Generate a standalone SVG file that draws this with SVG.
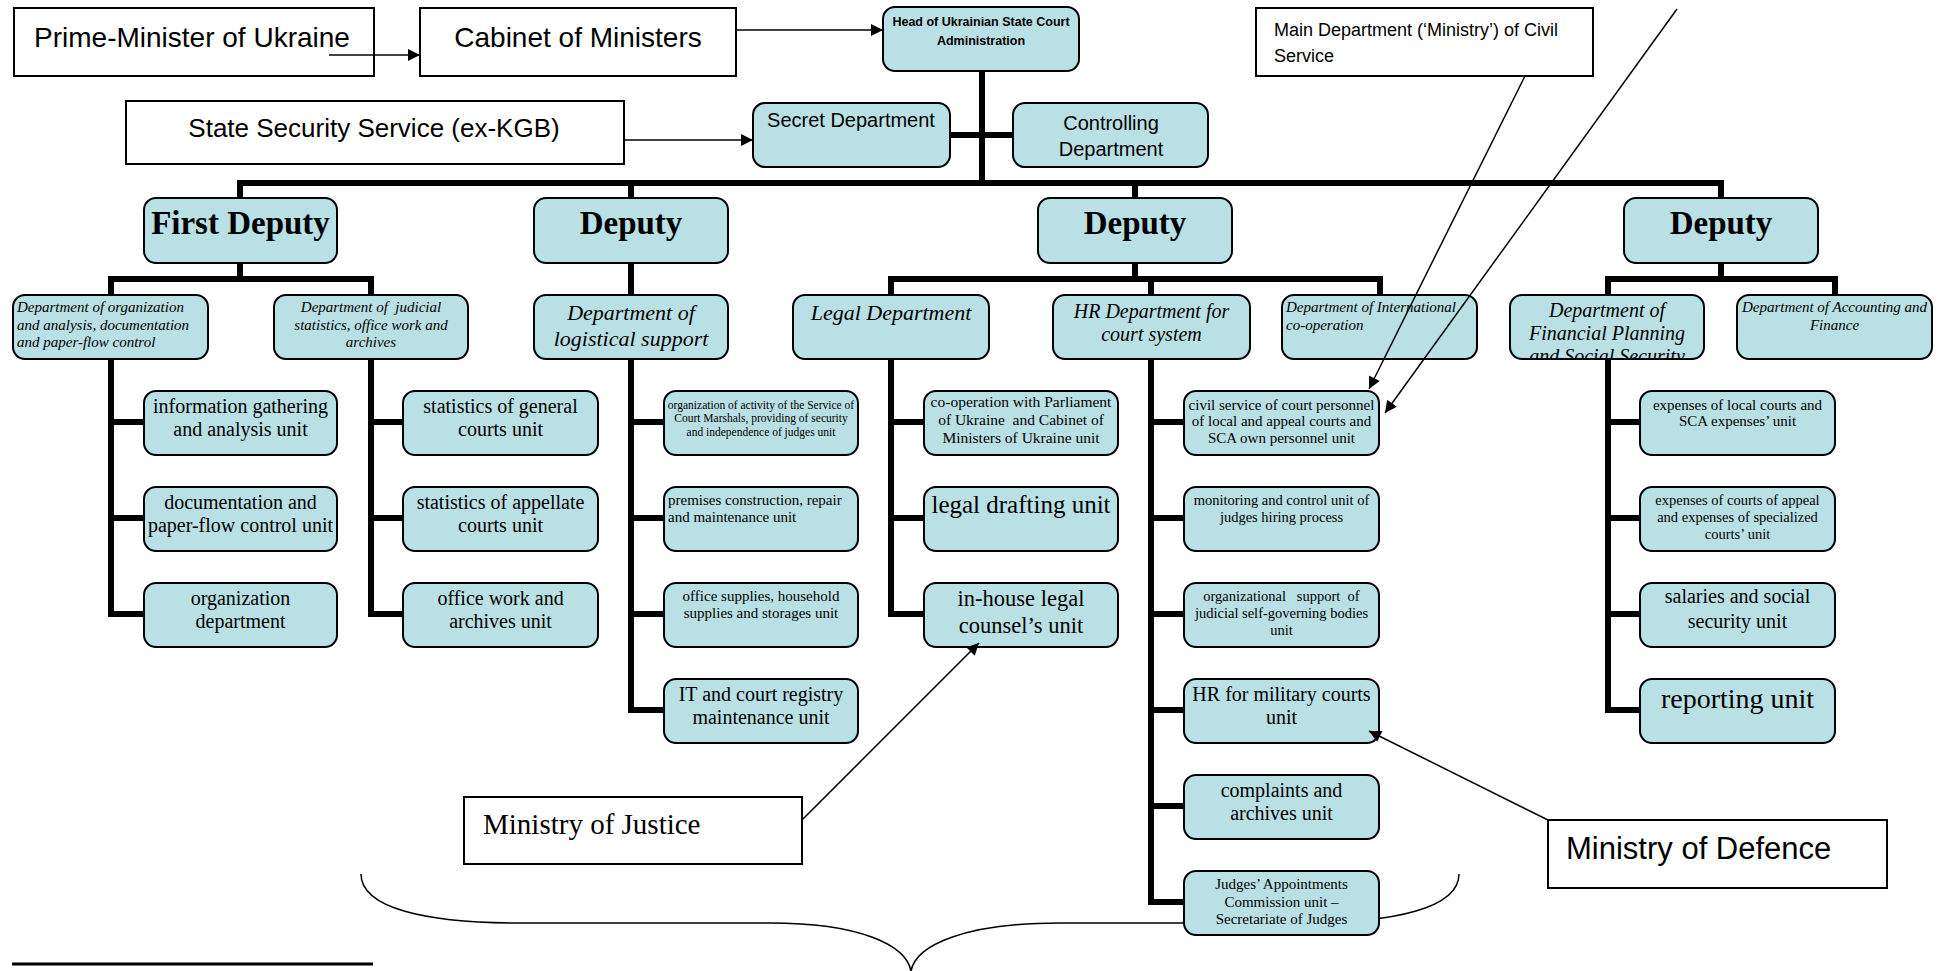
<svg xmlns="http://www.w3.org/2000/svg" width="1944" height="971" viewBox="0 0 1944 971">
<style>
.box{fill:#b9e0e4;stroke:#000;stroke-width:2}
.ext{fill:#fff;stroke:#000;stroke-width:2}
.bar{fill:none;stroke:#000;stroke-width:6;stroke-linejoin:miter;stroke-linecap:butt}
.thin{fill:none;stroke:#000;stroke-width:1.5}
.sans{font-family:"Liberation Sans",Arial,sans-serif;fill:#000}
.serif{font-family:"Liberation Serif","Times New Roman",serif;fill:#000}
.c{text-anchor:middle}
.it{font-style:italic}
.b{font-weight:bold}
.dep{font-size:33px;font-weight:bold}
.u20{font-size:20px}
</style>
<defs>
<marker id="ah" viewBox="0 0 10 10" refX="10" refY="5" markerWidth="14" markerHeight="12" markerUnits="userSpaceOnUse" orient="auto"><path d="M0,0L10,5L0,10z" fill="#000"/></marker>
<clipPath id="clipFin"><rect x="1511" y="296" width="192" height="62"/></clipPath>
<clipPath id="clipJud"><rect x="1185" y="872" width="193" height="62"/></clipPath>
</defs>
<rect width="1944" height="971" fill="#fff"/>

<g id="connectors-tree">
<path class="thin" d="M361,874 C361,908 425,923 520,923 L770,923 C860,923 906,945 911,971 M1459,874 C1459,908 1395,923 1300,923 L1060,923 C965,923 916,945 911,971"/>
<path class="bar" d="M982,71V183"/>
<path class="bar" d="M950,135H1013"/>
<path class="bar" d="M240,198V183H1721V198M631,183V198M1135,183V198"/>
<path class="bar" d="M240,263V279M111,295V279H371V295"/>
<path class="bar" d="M631,263V295"/>
<path class="bar" d="M1135,263V279M891,295V279H1380V295M1151,279V295"/>
<path class="bar" d="M1721,263V279M1608,295V279H1835V295"/>
<path class="bar" d="M111,359V614H144M111,422H144M111,518H144"/>
<path class="bar" d="M371,359V614H403M371,422H403M371,518H403"/>
<path class="bar" d="M631,359V710H664M631,422H664M631,518H664M631,614H664"/>
<path class="bar" d="M891,359V614H924M891,422H924M891,518H924"/>
<path class="bar" d="M1151,359V902H1184M1151,422H1184M1151,518H1184M1151,614H1184M1151,710H1184M1151,806H1184"/>
<path class="bar" d="M1608,359V710H1640M1608,422H1640M1608,518H1640M1608,614H1640"/>
<path d="M12,964H373" stroke="#000" stroke-width="3"/>
</g>

<g id="pm"><rect class="ext" x="14" y="8" width="360" height="68"/><text class="sans c" x="192" y="47" font-size="28">Prime-Minister of Ukraine</text></g>
<g id="cabinet"><rect class="ext" x="420" y="8" width="316" height="68"/><text class="sans c" x="578" y="47" font-size="28">Cabinet of Ministers</text></g>
<g id="sss"><rect class="ext" x="126" y="101" width="498" height="63"/><text class="sans c" x="374" y="137" font-size="26">State Security Service (ex-KGB)</text></g>
<g id="maindept"><rect class="ext" x="1256" y="8" width="337" height="68"/><text class="sans" x="1274" font-size="18"><tspan x="1274" y="36">Main Department (‘Ministry’) of Civil</tspan><tspan x="1274" y="62">Service</tspan></text></g>
<g id="moj"><rect class="ext" x="464" y="797" width="338" height="67"/><text class="serif" x="483" y="834" font-size="29">Ministry of Justice</text></g>
<g id="mod"><rect class="ext" x="1548" y="820" width="339" height="68"/><text class="sans" x="1566" y="859" font-size="31">Ministry of Defence</text></g>

<g id="head"><rect class="box" x="883" y="7" width="196" height="64" rx="12"/><text class="sans c b" font-size="12.5"><tspan x="981" y="26">Head of Ukrainian State Court</tspan><tspan x="981" y="45">Administration</tspan></text></g>
<g id="secret"><rect class="box" x="753" y="103" width="197" height="64" rx="12"/><text class="sans c" x="851" y="127" font-size="20">Secret Department</text></g>
<g id="controlling"><rect class="box" x="1013" y="103" width="195" height="64" rx="12"/><text class="sans c" font-size="20"><tspan x="1111" y="130">Controlling</tspan><tspan x="1111" y="156">Department</tspan></text></g>

<g id="firstdeputy"><rect class="box" x="144" y="198" width="193" height="65" rx="12"/><text class="serif c dep" x="240.5" y="234">First Deputy</text></g>
<g id="deputy2"><rect class="box" x="534" y="198" width="194" height="65" rx="12"/><text class="serif c dep" x="631" y="234">Deputy</text></g>
<g id="deputy3"><rect class="box" x="1038" y="198" width="194" height="65" rx="12"/><text class="serif c dep" x="1135" y="234">Deputy</text></g>
<g id="deputy4"><rect class="box" x="1624" y="198" width="194" height="65" rx="12"/><text class="serif c dep" x="1721" y="234">Deputy</text></g>

<g id="dept-org"><rect class="box" x="13" y="295" width="195" height="64" rx="12"/><text class="serif it" font-size="15"><tspan x="17" y="312">Department of organization</tspan><tspan x="17" y="330">and analysis, documentation</tspan><tspan x="17" y="347">and paper-flow control</tspan></text></g>
<g id="dept-jud"><rect class="box" x="274" y="295" width="194" height="64" rx="12"/><text class="serif it c" font-size="15" xml:space="preserve"><tspan x="371" y="312">Department of  judicial</tspan><tspan x="371" y="330">statistics, office work and</tspan><tspan x="371" y="347">archives</tspan></text></g>
<g id="dept-log"><rect class="box" x="534" y="295" width="194" height="64" rx="12"/><text class="serif it c" font-size="22"><tspan x="631" y="320">Department of</tspan><tspan x="631" y="346">logistical support</tspan></text></g>
<g id="dept-legal"><rect class="box" x="793" y="295" width="196" height="64" rx="12"/><text class="serif it c" x="891" y="320" font-size="22">Legal Department</text></g>
<g id="dept-hr"><rect class="box" x="1053" y="295" width="197" height="64" rx="12"/><text class="serif it c" font-size="20"><tspan x="1151.5" y="318">HR Department for</tspan><tspan x="1151.5" y="341">court system</tspan></text></g>
<g id="dept-intl"><rect class="box" x="1282" y="295" width="195" height="64" rx="12"/><text class="serif it" font-size="15"><tspan x="1286" y="312">Department of International</tspan><tspan x="1286" y="330">co-operation</tspan></text></g>
<g id="dept-fin"><rect class="box" x="1510" y="295" width="194" height="64" rx="12"/><text class="serif it c" font-size="20" clip-path="url(#clipFin)"><tspan x="1607" y="317">Department of</tspan><tspan x="1607" y="340">Financial Planning</tspan><tspan x="1607" y="363">and Social Security</tspan></text></g>
<g id="dept-acc"><rect class="box" x="1737" y="295" width="195" height="64" rx="12"/><text class="serif it c" font-size="15"><tspan x="1834.5" y="312">Department of Accounting and</tspan><tspan x="1834.5" y="330">Finance</tspan></text></g>

<g id="a1"><rect class="box" x="144" y="391" width="193" height="64" rx="12"/><text class="serif c u20"><tspan x="240.5" y="413">information gathering</tspan><tspan x="240.5" y="436">and analysis unit</tspan></text></g>
<g id="a2"><rect class="box" x="144" y="487" width="193" height="64" rx="12"/><text class="serif c u20"><tspan x="240.5" y="509">documentation and</tspan><tspan x="240.5" y="532">paper-flow control unit</tspan></text></g>
<g id="a3"><rect class="box" x="144" y="583" width="193" height="64" rx="12"/><text class="serif c u20"><tspan x="240.5" y="605">organization</tspan><tspan x="240.5" y="628">department</tspan></text></g>

<g id="b1"><rect class="box" x="403" y="391" width="195" height="64" rx="12"/><text class="serif c u20"><tspan x="500.5" y="413">statistics of general</tspan><tspan x="500.5" y="436">courts unit</tspan></text></g>
<g id="b2"><rect class="box" x="403" y="487" width="195" height="64" rx="12"/><text class="serif c u20"><tspan x="500.5" y="509">statistics of appellate</tspan><tspan x="500.5" y="532">courts unit</tspan></text></g>
<g id="b3"><rect class="box" x="403" y="583" width="195" height="64" rx="12"/><text class="serif c u20"><tspan x="500.5" y="605">office work and</tspan><tspan x="500.5" y="628">archives unit</tspan></text></g>

<g id="c1"><rect class="box" x="664" y="391" width="194" height="64" rx="12"/><text class="serif c" font-size="11.5"><tspan x="761" y="409">organization of activity of the Service of</tspan><tspan x="761" y="422">Court Marshals, providing of security</tspan><tspan x="761" y="436">and independence of judges unit</tspan></text></g>
<g id="c2"><rect class="box" x="664" y="487" width="194" height="64" rx="12"/><text class="serif" font-size="15"><tspan x="668" y="505">premises construction, repair</tspan><tspan x="668" y="522">and maintenance unit</tspan></text></g>
<g id="c3"><rect class="box" x="664" y="583" width="194" height="64" rx="12"/><text class="serif c" font-size="15"><tspan x="761" y="601">office supplies, household</tspan><tspan x="761" y="618">supplies and storages unit</tspan></text></g>
<g id="c4"><rect class="box" x="664" y="679" width="194" height="64" rx="12"/><text class="serif c u20"><tspan x="761" y="701">IT and court registry</tspan><tspan x="761" y="724">maintenance unit</tspan></text></g>

<g id="d1"><rect class="box" x="924" y="391" width="194" height="64" rx="12"/><text class="serif c" font-size="15.5" xml:space="preserve"><tspan x="1021" y="407">co-operation with Parliament</tspan><tspan x="1021" y="425">of Ukraine  and Cabinet of</tspan><tspan x="1021" y="443">Ministers of Ukraine unit</tspan></text></g>
<g id="d2"><rect class="box" x="924" y="487" width="194" height="64" rx="12"/><text class="serif c" x="1021" y="513" font-size="25">legal drafting unit</text></g>
<g id="d3"><rect class="box" x="924" y="583" width="194" height="64" rx="12"/><text class="serif c" font-size="22.5"><tspan x="1021" y="606">in-house legal</tspan><tspan x="1021" y="633">counsel’s unit</tspan></text></g>

<g id="e1"><rect class="box" x="1184" y="391" width="195" height="64" rx="12"/><text class="serif c" font-size="15"><tspan x="1281.5" y="410">civil service of court personnel</tspan><tspan x="1281.5" y="426">of local and appeal courts and</tspan><tspan x="1281.5" y="443">SCA own personnel unit</tspan></text></g>
<g id="e2"><rect class="box" x="1184" y="487" width="195" height="64" rx="12"/><text class="serif c" font-size="14.5"><tspan x="1281.5" y="505">monitoring and control unit of</tspan><tspan x="1281.5" y="522">judges hiring process</tspan></text></g>
<g id="e3"><rect class="box" x="1184" y="583" width="195" height="64" rx="12"/><text class="serif c" font-size="14.5" xml:space="preserve"><tspan x="1281.5" y="601">organizational   support  of</tspan><tspan x="1281.5" y="618">judicial self-governing bodies</tspan><tspan x="1281.5" y="635">unit</tspan></text></g>
<g id="e4"><rect class="box" x="1184" y="679" width="195" height="64" rx="12"/><text class="serif c u20"><tspan x="1281.5" y="701">HR for military courts</tspan><tspan x="1281.5" y="724">unit</tspan></text></g>
<g id="e5"><rect class="box" x="1184" y="775" width="195" height="64" rx="12"/><text class="serif c u20"><tspan x="1281.5" y="797">complaints and</tspan><tspan x="1281.5" y="820">archives unit</tspan></text></g>
<g id="e6"><rect class="box" x="1184" y="871" width="195" height="64" rx="12"/><text class="serif c" font-size="15" clip-path="url(#clipJud)"><tspan x="1281.5" y="889">Judges’ Appointments</tspan><tspan x="1281.5" y="907">Commission unit –</tspan><tspan x="1281.5" y="924">Secretariate of Judges</tspan></text></g>

<g id="f1"><rect class="box" x="1640" y="391" width="195" height="64" rx="12"/><text class="serif c" font-size="15"><tspan x="1737.5" y="410">expenses of local courts and</tspan><tspan x="1737.5" y="426">SCA expenses’ unit</tspan></text></g>
<g id="f2"><rect class="box" x="1640" y="487" width="195" height="64" rx="12"/><text class="serif c" font-size="14.5"><tspan x="1737.5" y="505">expenses of courts of appeal</tspan><tspan x="1737.5" y="522">and expenses of specialized</tspan><tspan x="1737.5" y="539">courts’ unit</tspan></text></g>
<g id="f3"><rect class="box" x="1640" y="583" width="195" height="64" rx="12"/><text class="serif c u20"><tspan x="1737.5" y="603">salaries and social</tspan><tspan x="1737.5" y="628">security unit</tspan></text></g>
<g id="f4"><rect class="box" x="1640" y="679" width="195" height="64" rx="12"/><text class="serif c" x="1737.5" y="708" font-size="28">reporting unit</text></g>

<g id="connectors-external">
<path class="thin" d="M329,55H420" marker-end="url(#ah)"/>
<path class="thin" d="M736,30H883" marker-end="url(#ah)"/>
<path class="thin" d="M624,140H753" marker-end="url(#ah)"/>
<path class="thin" d="M1525,76L1369,389" marker-end="url(#ah)"/>
<path class="thin" d="M1677,9L1385,413" marker-end="url(#ah)"/>
<path class="thin" d="M802,820L979,643" marker-end="url(#ah)"/>
<path class="thin" d="M1548,820L1369,731" marker-end="url(#ah)"/>
</g>
</svg>
